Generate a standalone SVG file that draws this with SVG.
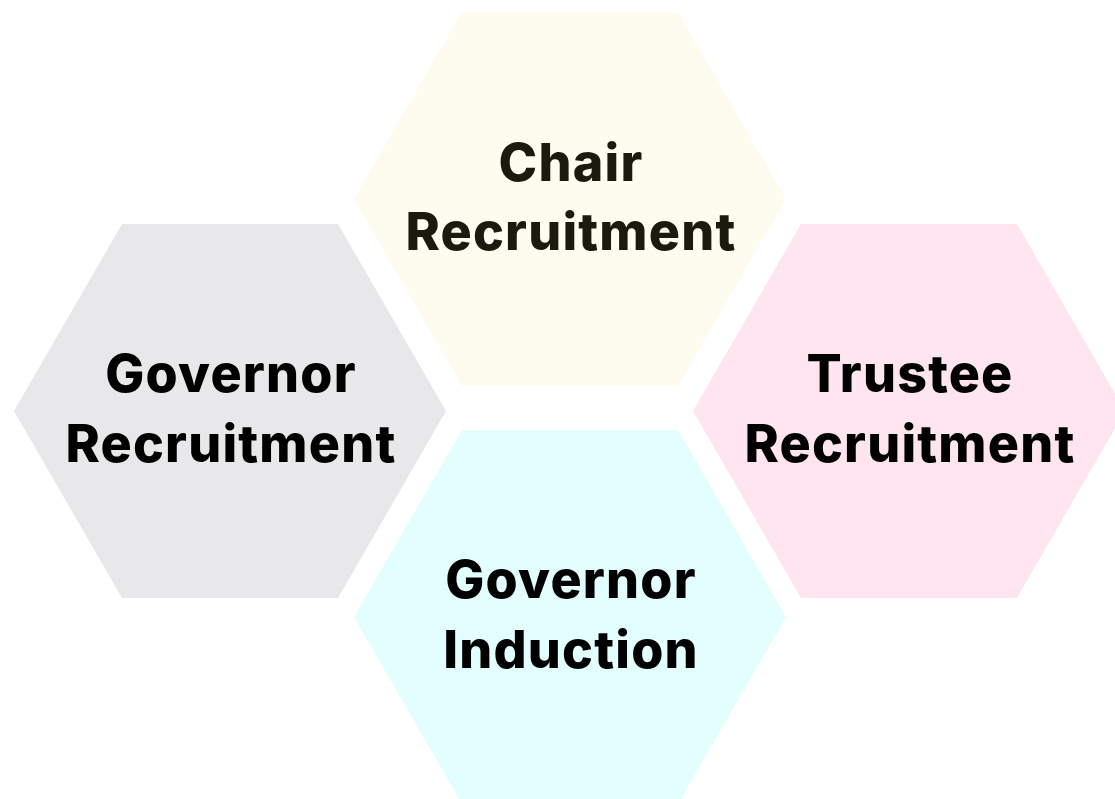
<svg xmlns="http://www.w3.org/2000/svg" width="1115" height="799" viewBox="0 0 1115 799">
<style>
.lbl{font-family:Inter,"Liberation Sans",sans-serif;font-weight:800;font-size:52px;letter-spacing:1.2px;text-anchor:middle;fill:#000}
</style>
<rect width="1115" height="799" fill="#fff"/>
<g id="chair">
<polygon points="354,199 462,12 678,12 786,199 678,386 462,386" fill="#FEFCEF"/>
<text class="lbl" x="571" y="181" style="fill:#1C1A0E">Chair</text>
<text class="lbl" x="571" y="250" style="fill:#1C1A0E">Recruitment</text>
</g>
<g id="governor-recruitment">
<polygon points="14,411 122,224 338,224 446,411 338,598 122,598" fill="#E8E8EA"/>
<text class="lbl" x="231" y="392">Governor</text>
<text class="lbl" x="231" y="462">Recruitment</text>
</g>
<g id="trustee-recruitment">
<polygon points="693,411 801,224 1017,224 1125,411 1017,598 801,598" fill="#FEE5F0"/>
<text class="lbl" x="910" y="392">Trustee</text>
<text class="lbl" x="910" y="462">Recruitment</text>
</g>
<g id="governor-induction">
<polygon points="354,617 462,430 678,430 786,617 678,804 462,804" fill="#E3FEFE"/>
<text class="lbl" x="571" y="598">Governor</text>
<text class="lbl" x="571" y="668">Induction</text>
</g>
<g id="connectors"></g>
</svg>
